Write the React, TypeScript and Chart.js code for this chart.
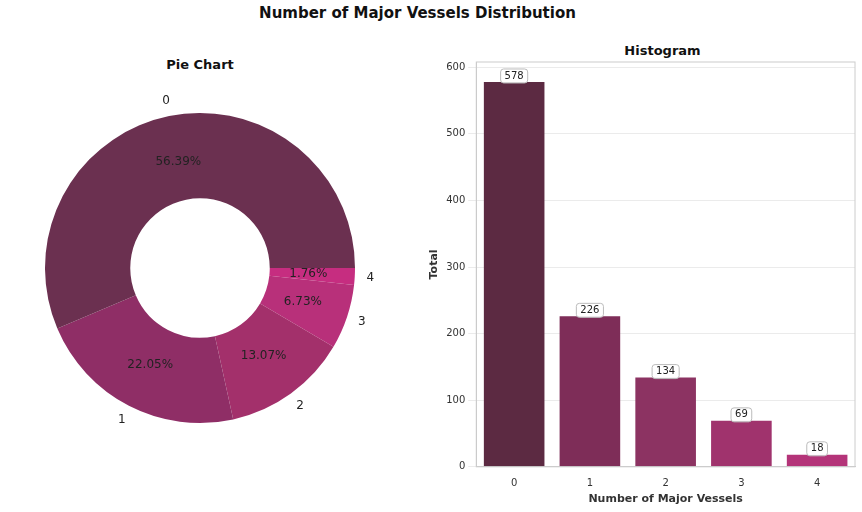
import React, { useEffect, useRef } from 'react'
import { Chart, registerables, Plugin } from 'chart.js'

Chart.register(...registerables)
Chart.defaults.font.family = '"DejaVu Sans", sans-serif'

const categories = ['0', '1', '2', '3', '4']
const counts = [578, 226, 134, 69, 18]
const percents = ['56.39%', '22.05%', '13.07%', '6.73%', '1.76%']
const pieColors = ['#6b3050', '#8f2e66', '#a3306b', '#b8307a', '#c62d80']
const barColors = ['#5c2a42', '#7e2d58', '#8c3362', '#a0336d', '#b43479']
const yTicks = [0, 100, 200, 300, 400, 500, 600]

// slices drawn clockwise from 3 o'clock, so reverse to look counter-clockwise
const rev = <T,>(a: T[]) => a.slice().reverse()

const pieLabels: Plugin<'doughnut'> = {
  id: 'pieLabels',
  afterDatasetsDraw (chart) {
    const ctx = chart.ctx
    const meta = chart.getDatasetMeta(0)
    const names = rev(categories)
    const pcts = rev(percents)
    ctx.save()
    ctx.textAlign = 'center'
    ctx.textBaseline = 'middle'
    ctx.font = '12px "DejaVu Sans", sans-serif'
    meta.data.forEach((arc: any, i) => {
      const { x, y, startAngle, endAngle, outerRadius } = arc.getProps(['x', 'y', 'startAngle', 'endAngle', 'outerRadius'], true)
      const mid = (startAngle + endAngle) / 2
      ctx.fillStyle = '#222'
      const r1 = outerRadius * 0.7
      ctx.fillText(pcts[i], x + Math.cos(mid) * r1, y + Math.sin(mid) * r1)
      const r2 = outerRadius * 1.1
      ctx.fillText(names[i], x + Math.cos(mid) * r2, y + Math.sin(mid) * r2)
    })
    ctx.restore()
  },
}

const barExtras: Plugin<'bar'> = {
  id: 'barExtras',
  afterDatasetsDraw (chart) {
    const ctx = chart.ctx
    const { left, top, width, height } = chart.chartArea
    ctx.save()
    ctx.strokeStyle = '#cccccc'
    ctx.lineWidth = 1
    ctx.strokeRect(left, top, width, height)
    ctx.font = '10px "DejaVu Sans", sans-serif'
    ctx.textAlign = 'center'
    ctx.textBaseline = 'middle'
    chart.getDatasetMeta(0).data.forEach((bar: any, i) => {
      const txt = String(counts[i])
      const w = ctx.measureText(txt).width + 8
      const bx = bar.x - w / 2
      const by = bar.y - 13
      ctx.fillStyle = 'rgba(255,255,255,0.9)'
      ctx.strokeStyle = '#bbbbbb'
      ctx.beginPath()
      ctx.roundRect(bx, by, w, 14, 3)
      ctx.fill()
      ctx.stroke()
      ctx.fillStyle = '#222'
      ctx.fillText(txt, bar.x, by + 7)
    })
    ctx.restore()
  },
}

export default function App () {
  const pieRef = useRef<HTMLCanvasElement>(null)
  const barRef = useRef<HTMLCanvasElement>(null)

  useEffect(() => {
    document.body.style.margin = '0'
    const pie = new Chart(pieRef.current!, {
      type: 'doughnut',
      data: {
        labels: rev(categories),
        datasets: [{ data: rev(counts), backgroundColor: rev(pieColors), borderColor: '#ffffff', borderWidth: 0 }],
      },
      options: {
        animation: false,
        responsive: false,
        rotation: 90,
        cutout: '45%',
        layout: { padding: { top: 113, bottom: 89, left: 45, right: 45 } },
        plugins: { legend: { display: false }, tooltip: { enabled: false } },
      },
      plugins: [pieLabels],
    })
    const bar = new Chart(barRef.current!, {
      type: 'bar',
      data: {
        labels: categories,
        datasets: [{ data: counts, backgroundColor: barColors, categoryPercentage: 1, barPercentage: 0.8 }],
      },
      options: {
        animation: false,
        responsive: false,
        layout: { padding: { top: 62, left: 6, right: 7, bottom: 6 } },
        plugins: { legend: { display: false }, tooltip: { enabled: false } },
        scales: {
          x: {
            grid: { display: false },
            border: { color: '#cccccc' },
            ticks: { color: '#333', font: { size: 10 } },
            title: { display: true, text: 'Number of Major Vessels', color: '#333', font: { size: 11, weight: 'bold' }, padding: 0 },
          },
          y: {
            min: 0,
            max: 608,
            afterBuildTicks: (axis) => { axis.ticks = yTicks.map(v => ({ value: v })) },
            grid: { color: '#ebebeb' },
            border: { color: '#cccccc' },
            ticks: { color: '#333', font: { size: 10 } },
            title: { display: true, text: 'Total', color: '#333', font: { size: 11, weight: 'bold' }, padding: 2 },
          },
        },
      },
      plugins: [barExtras],
    })
    return () => { pie.destroy(); bar.destroy() }
  }, [])

  const titleStyle: React.CSSProperties = { position: 'absolute', fontFamily: '"DejaVu Sans", sans-serif', fontWeight: 'bold', color: '#111', textAlign: 'center' }

  return (
    <div style={{ position: 'relative', width: 862, height: 512, background: '#fff', overflow: 'hidden' }}>
      <div style={{ ...titleStyle, left: 0, top: 4, width: 835, fontSize: 15 }}>Number of Major Vessels Distribution</div>
      <div style={{ ...titleStyle, left: 0, top: 57, width: 400, fontSize: 13 }}>Pie Chart</div>
      <div style={{ ...titleStyle, left: 470, top: 43, width: 385, fontSize: 13 }}>Histogram</div>
      <canvas ref={pieRef} width={400} height={512} style={{ position: 'absolute', left: 0, top: 0 }} />
      <canvas ref={barRef} width={442} height={512} style={{ position: 'absolute', left: 420, top: 0 }} />
    </div>
  )
}
